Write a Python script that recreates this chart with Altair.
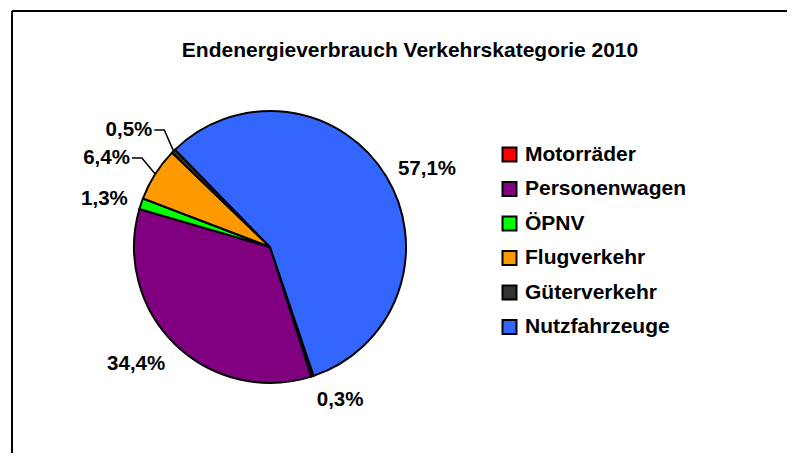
import math
import altair as alt
import pandas as pd

# ---- data ----
CATEGORIES = ["Motorräder", "Personenwagen", "ÖPNV", "Flugverkehr", "Güterverkehr", "Nutzfahrzeuge"]
VALUES = [0.3, 34.4, 1.3, 6.4, 0.5, 57.1]
COLORS = ["#FF0000", "#800080", "#00FF00", "#FF9900", "#333333", "#3366FF"]
LEADER = ["Flugverkehr", "Güterverkehr"]  # labels drawn with leader lines
TITLE = "Endenergieverbrauch Verkehrskategorie 2010"

# ---- layout / style ----
W, H = 779, 445
CX, CY, R = 262, 239, 136
START = math.radians(161.3)
TOTAL = sum(VALUES)
FONT = "Liberation Sans"
FS = 20.5
R_LABEL = 150
R_LEADER = 166


def fmt(v):
    return f"{v:.1f}".replace(".", ",") + "%"


df = pd.DataFrame({
    "category": CATEGORIES,
    "value": VALUES,
    "order": list(range(len(CATEGORIES))),
    "label": [fmt(v) for v in VALUES],
})

theta_scale = alt.Scale(domain=[0, TOTAL], range=[START, START + 2 * math.pi])

color = alt.Color(
    "category:N",
    sort=CATEGORIES,
    scale=alt.Scale(domain=CATEGORIES, range=COLORS),
    legend=alt.Legend(
        title=None, orient="none", legendX=491, legendY=136,
        symbolType="square", symbolSize=196, symbolStrokeColor="black",
        symbolStrokeWidth=2, labelFont=FONT, labelFontSize=21,
        labelFontWeight="bold", labelColor="black", labelOffset=5,
        rowPadding=11.5, labelLimit=400, padding=0,
    ),
)

pie = alt.Chart(df).mark_arc(radius=R, stroke="black", strokeWidth=2).encode(
    theta=alt.Theta("value:Q", stack=True, scale=theta_scale),
    color=color,
    order=alt.Order("order:Q"),
    x=alt.value(CX),
    y=alt.value(CY),
)

leader_test = " || ".join(f"datum.category == '{c}'" for c in LEADER)

lab_base = (
    alt.Chart(df)
    .transform_window(cum="sum(value)", sort=[alt.SortField("order")])
    .transform_calculate(mid="datum.cum - datum.value / 2")
    .transform_calculate(ang=f"{START} + datum.mid / {TOTAL} * 2 * PI")
    .transform_calculate(side="sin(datum.ang) >= 0 ? 'R' : 'L'")
    .transform_calculate(half="cos(datum.ang) >= 0 ? 'U' : 'D'")
    .transform_calculate(lr=f"({leader_test}) ? {R_LEADER} : {R_LABEL}")
)


def text_layer(side, half, align, baseline):
    return (
        lab_base.transform_filter(f"datum.side == '{side}' && datum.half == '{half}'")
        .mark_text(align=align, baseline=baseline, font=FONT, fontSize=FS,
                   fontWeight="bold", color="black")
        .encode(
            theta=alt.Theta("mid:Q", stack=False, scale=theta_scale),
            radius=alt.Radius("lr:Q", scale=None),
            text="label:N",
            x=alt.value(CX),
            y=alt.value(CY),
        )
    )


labels = [
    text_layer("R", "U", "left", "middle"),
    text_layer("R", "D", "left", "top"),
    text_layer("L", "D", "right", "top"),
    text_layer("L", "U", "right", "middle"),
]

# leader lines, derived from the slice mid-angles
rows = []
cum = 0.0
for c, v in zip(CATEGORIES, VALUES):
    mid = cum + v / 2
    cum += v
    if c not in LEADER:
        continue
    ang = START + mid / TOTAL * 2 * math.pi
    s = 1 if math.sin(ang) >= 0 else -1
    ax = CX + R_LEADER * math.sin(ang)
    ay = CY - R_LEADER * math.cos(ang)
    ex = CX + R * math.sin(ang)
    ey = CY - R * math.cos(ang)
    pts = [(ax - s * 2, ay), (ax - s * 12, ay), (ex, ey)]
    for k, (px, py) in enumerate(pts):
        rows.append({"category": c, "seq": k, "px": px, "py": py})
lead_df = pd.DataFrame(rows)

leaders = alt.Chart(lead_df).mark_line(color="black", strokeWidth=1.5).encode(
    x=alt.X("px:Q", scale=alt.Scale(domain=[0, W], range=[0, W]), axis=None),
    y=alt.Y("py:Q", scale=alt.Scale(domain=[0, H], range=[0, H]), axis=None),
    detail="category:N",
    order="seq:Q",
)

one = pd.DataFrame({"t": [TITLE]})
title = alt.Chart(one).mark_text(
    font=FONT, fontSize=21, fontWeight="bold", color="black",
    align="center", baseline="alphabetic",
).encode(text="t:N", x=alt.value(402), y=alt.value(49))

frame_top = alt.Chart(one).mark_rule(color="black", strokeWidth=2).encode(
    x=alt.value(4), x2=alt.value(W), y=alt.value(3)
)
frame_left = alt.Chart(one).mark_rule(color="black", strokeWidth=2).encode(
    x=alt.value(4), y=alt.value(3), y2=alt.value(H)
)

chart = alt.layer(
    frame_top, frame_left, title, leaders, pie, *labels
).properties(
    width=W, height=H, padding=0, background="white",
    autosize=alt.AutoSizeParams(type="none"),
).configure_view(stroke=None)

chart.save("out.html", embed_options={"renderer": "svg", "actions": False})
